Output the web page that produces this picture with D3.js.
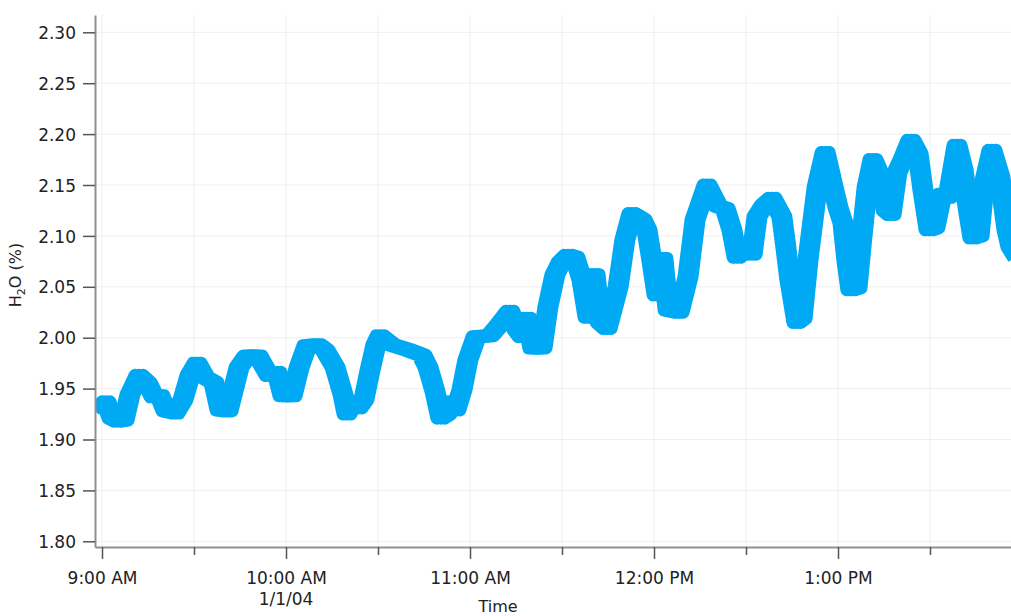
<!DOCTYPE html>
<html>
<head>
<meta charset="utf-8">
<script src="https://cdn.jsdelivr.net/npm/d3@7"></script>
<style>
  html, body { margin: 0; padding: 0; background: #fff; }
  svg { display: block; }
  text { font-family: "DejaVu Sans", Verdana, sans-serif; fill: #222; }
</style>
</head>
<body>
<svg id="chart" width="1011" height="616"></svg>
<script>
// Water vapour record, 1 Jan 2004. Times are minutes after 9:00 AM.
const minutes = [
  -1.3, 1.3, 3.3, 5.2, 7.2, 9.1, 12.1, 14.7, 17.0, 18.9,
  20.9, 23.8, 26.4, 28.7, 31.0, 33.6, 36.5, 38.5, 41.1, 44.7,
  47.3, 50.9, 54.5, 57.1, 59.0, 62.0, 64.3, 66.8, 70.4, 72.7,
  76.0, 78.6, 79.9, 81.5, 83.5, 85.4, 87.4, 89.3, 90.7, 94.6,
  99.8, 104.3, 106.3, 108.6, 110.5, 112.5, 113.5, 115.4, 117.4, 119.3,
  122.0, 126.5, 129.1, 133.0, 135.3, 137.0, 138.6, 140.5, 143.5, 145.4,
  147.7, 149.7, 152.0, 154.2, 156.5, 158.5, 160.8, 162.4, 164.7, 168.3,
  170.5, 172.8, 176.1, 177.7, 179.3, 181.0, 182.9, 184.6, 188.2, 191.1,
  193.4, 197.3, 200.9, 203.2, 205.4, 207.1, 209.7, 212.0, 213.6, 215.9,
  218.5, 221.7, 222.7, 224.3, 226.6, 228.3, 230.2, 233.2, 235.8, 238.4,
  240.0, 241.6, 242.9, 244.2, 246.2, 247.8, 249.5, 251.4, 254.3, 255.7,
  257.3, 259.2, 261.2, 263.8, 266.1, 267.7, 269.7, 271.6, 273.9, 275.9,
  278.8, 280.8, 282.4, 284.0, 286.0, 287.6, 290.2, 292.8, 295.1, 296.4,
  298.7
];
const h2o = [
  1.929, 1.937, 1.921, 1.918, 1.919, 1.944, 1.963, 1.956, 1.942, 1.943,
  1.928, 1.926, 1.939, 1.963, 1.975, 1.961, 1.956, 1.929, 1.928, 1.971,
  1.982, 1.982, 1.963, 1.966, 1.943, 1.943, 1.971, 1.992, 1.993, 1.988,
  1.971, 1.944, 1.925, 1.937, 1.931, 1.939, 1.968, 1.993, 2.002, 1.993,
  1.988, 1.983, 1.971, 1.947, 1.921, 1.925, 1.937, 1.929, 1.949, 1.978,
  2.001, 2.002, 2.011, 2.026, 2.008, 2.001, 2.019, 1.990, 1.990, 2.030,
  2.062, 2.074, 2.081, 2.079, 2.057, 2.020, 2.062, 2.015, 2.009, 2.050,
  2.096, 2.122, 2.116, 2.106, 2.076, 2.042, 2.078, 2.027, 2.025, 2.060,
  2.116, 2.150, 2.129, 2.127, 2.106, 2.079, 2.089, 2.082, 2.119, 2.130,
  2.137, 2.119, 2.096, 2.057, 2.015, 2.019, 2.076, 2.148, 2.182, 2.148,
  2.128, 2.113, 2.076, 2.047, 2.049, 2.099, 2.148, 2.175, 2.155, 2.125,
  2.121, 2.162, 2.175, 2.194, 2.181, 2.145, 2.106, 2.108, 2.141, 2.138,
  2.189, 2.165, 2.128, 2.098, 2.100, 2.150, 2.184, 2.158, 2.106, 2.089,
  2.078
];

const yTicks = [1.80, 1.85, 1.90, 1.95, 2.00, 2.05, 2.10, 2.15, 2.20, 2.25, 2.30];
const dateLabel = "1/1/04";
const xTitle = "Time";

const start = new Date(2004, 0, 1, 9, 0, 0);
const at = m => new Date(start.getTime() + m * 60000);
const series = minutes.map((m, i) => ({ t: at(m), v: h2o[i] }));

const svg = d3.select("#chart");
const W = 1011;
const plotLeft = 95, plotTop = 15, plotBottom = 547;

// 184 px per hour, 9:00 AM sits 7 px right of the y axis
const x = d3.scaleTime()
  .domain([at(-7 * 60 / 184), at(300)])
  .range([plotLeft, plotLeft + (300 + 7 * 60 / 184) / 60 * 184]);

const y = d3.scaleLinear()
  .domain([1.80 - (plotBottom - 541.3) / 1018, 1.80 + (541.3 - plotTop) / 1018])
  .range([plotBottom, plotTop]);

const halfHours = d3.timeMinute.every(30).range(at(0), at(300));

// grid
const grid = svg.append("g").attr("stroke", "#efefef").attr("stroke-width", 1);
grid.selectAll("line.h").data(yTicks).join("line").attr("class", "h")
  .attr("x1", plotLeft).attr("x2", W)
  .attr("y1", d => y(d)).attr("y2", d => y(d));
grid.selectAll("line.v").data(halfHours).join("line").attr("class", "v")
  .attr("y1", plotTop).attr("y2", plotBottom)
  .attr("x1", d => x(d)).attr("x2", d => x(d));

// data trace: a pen that is wider horizontally than vertically, built from
// the same path stroked at small horizontal offsets
svg.append("clipPath").attr("id", "plot")
  .append("rect").attr("x", plotLeft + 1).attr("y", 0)
  .attr("width", W - plotLeft).attr("height", plotBottom);

const line = d3.line().x(d => x(d.t)).y(d => y(d.v));
const trace = svg.append("g").attr("clip-path", "url(#plot)");
trace.selectAll("path").data([-4, 0, 4]).join("path")
  .attr("transform", dx => `translate(${dx},0)`)
  .attr("d", line(series))
  .attr("fill", "none")
  .attr("stroke", "#00a9f4")
  .attr("stroke-width", 13)
  .attr("stroke-linejoin", "round");

// y axis
const yAxis = svg.append("g")
  .attr("transform", `translate(${plotLeft},0)`)
  .call(d3.axisLeft(y).tickValues(yTicks).tickFormat(d3.format(".2f"))
    .tickSize(12).tickSizeOuter(0).tickPadding(7));
yAxis.select(".domain").attr("stroke", "#8f8f8f").attr("stroke-width", 2);
yAxis.selectAll(".tick line").attr("stroke", "#555").attr("stroke-width", 1.5);
yAxis.selectAll(".tick text")
  .attr("font-size", 17).attr("dy", "0.36em")
  .style("font-family", "'DejaVu Sans', Verdana, sans-serif").attr("fill", "#222");

// x axis
const hourFmt = d3.timeFormat("%-I:%M %p");
const xAxis = svg.append("g")
  .attr("transform", `translate(0,${plotBottom})`)
  .call(d3.axisBottom(x).tickValues(halfHours)
    .tickFormat(d => d.getMinutes() === 0 ? hourFmt(d) : "")
    .tickSize(12).tickSizeOuter(0).tickPadding(13));
xAxis.select(".domain").attr("stroke", "#8f8f8f").attr("stroke-width", 2);
xAxis.selectAll(".tick line")
  .attr("stroke", "#555").attr("stroke-width", 1.5)
  .attr("y2", d => d.getMinutes() === 0 ? 12 : 8);
xAxis.selectAll(".tick text")
  .attr("font-size", 17)
  .style("font-family", "'DejaVu Sans', Verdana, sans-serif").attr("fill", "#222");

// date under the 10:00 AM label
svg.append("text")
  .attr("x", x(at(60))).attr("y", 605)
  .attr("text-anchor", "middle").attr("font-size", 17)
  .text(dateLabel);

// axis titles
svg.append("text")
  .attr("x", 498).attr("y", 612)
  .attr("text-anchor", "middle").attr("font-size", 16)
  .text(xTitle);

const yt = svg.append("text")
  .attr("transform", "translate(21,275) rotate(-90)")
  .attr("text-anchor", "middle").attr("font-size", 16);
yt.append("tspan").text("H");
yt.append("tspan").attr("font-size", 11).attr("dy", 4).text("2");
yt.append("tspan").attr("dy", -4).text("O (%)");
</script>
</body>
</html>
